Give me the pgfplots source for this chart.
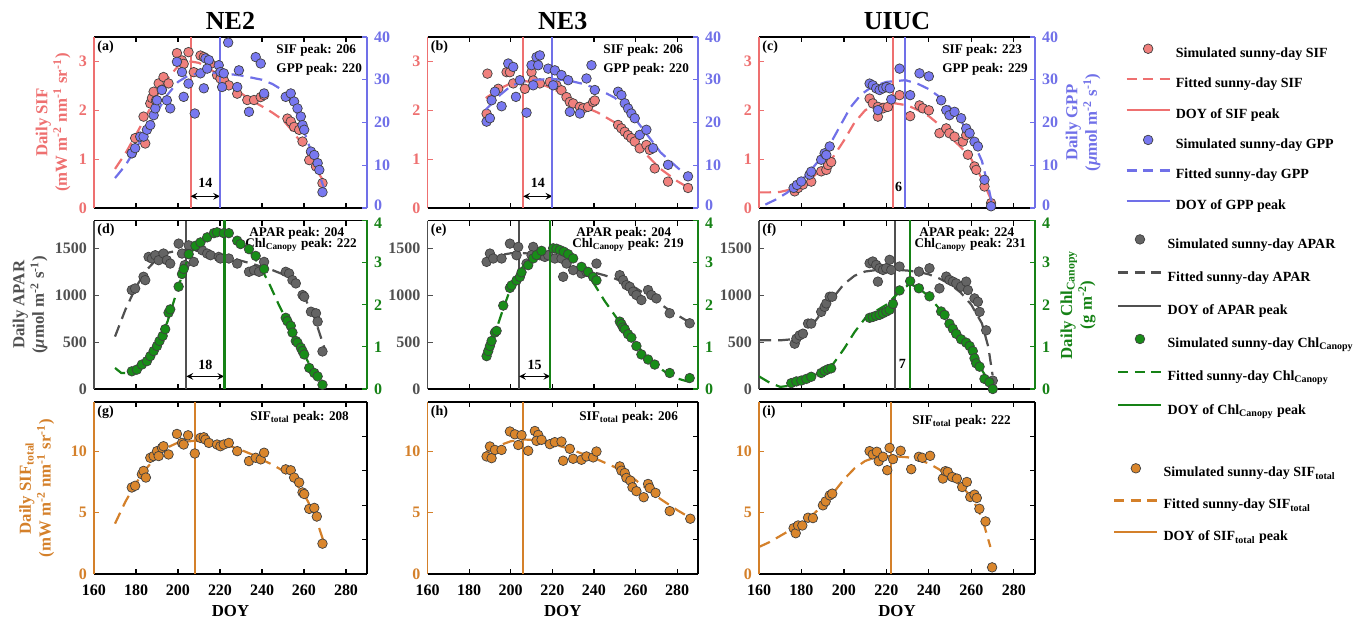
\documentclass[border=0pt]{standalone}
\usepackage{fontspec}
\setmainfont{Liberation Serif}
\usepackage{pgfplots}
\pgfplotsset{compat=1.18}

\definecolor{sifc}{RGB}{238,112,112}
\definecolor{sifm}{RGB}{240,128,125}
\definecolor{gppc}{RGB}{112,112,232}
\definecolor{gppm}{RGB}{120,120,240}
\definecolor{aparc}{RGB}{80,80,80}
\definecolor{aparm}{RGB}{100,100,100}
\definecolor{chlc}{RGB}{22,130,22}
\definecolor{chlm}{RGB}{24,140,24}
\definecolor{sftc}{RGB}{212,128,42}
\definecolor{sftm}{RGB}{218,134,44}

\newcommand\tickfont{\fontsize{8}{9.6}\selectfont\bfseries}
\newcommand\labfont{\fontsize{8.4}{9.8}\selectfont\bfseries}
\newcommand\txtfont{\fontsize{6.6}{7.6}\selectfont\bfseries}
\newcommand\legfont{\fontsize{7}{8.4}\selectfont\bfseries}

\pgfplotsset{
  base/.style={scale only axis, xmin=160, xmax=290, xtick={160,180,...,280},
    tick align=inside, major tick length=2.5pt,
    axis line style={line width=0.8pt},
    every tick/.append style={line width=0.6pt},
    ticklabel style={font=\tickfont},
    xticklabel style={yshift=-2pt},
    yticklabel style={inner ysep=0pt},
    /pgf/number format/assume math mode=true,
    /pgf/number format/1000 sep={},
    every axis y label/.style={rotate=90, anchor=center, align=center, font=\labfont},
    every axis x label/.style={at={(axis description cs:0.5,0)}, anchor=base, yshift=-21pt, font=\labfont},
    every axis title/.style={at={(0.5,1)}, anchor=base, yshift=3.5pt, font=\fontsize{13}{15}\selectfont\bfseries}},
  leftax/.style={base, axis x line*=box, axis y line*=left, xtick style={black}, x axis line style={black}},
  rightax/.style={base, axis x line=none, axis y line*=right},
  ycol/.style={y axis line style={#1}, ytick style={#1}, yticklabel style={text=#1}, ylabel style={text=#1}},
  nox/.style={xticklabels={}},
  % right axis of the top row: the zero label sits a touch higher
  gppticks/.style={ytick={10,20,30,40}, extra y ticks={0},
    extra y tick style={yticklabel style={yshift=1.2pt}}},
  % right axis of the middle row: the top label sits a touch lower
  chlticks/.style={ytick={0,1,2,3}, extra y ticks={4},
    extra y tick style={yticklabel style={yshift=-1.2pt}}},
  simmark/.style={only marks, mark=*, mark size=2.4pt, mark options={fill=#1, draw=black!75, line width=0.35pt}},
  fitline/.style={#1, no marks, line width=1.1pt, dash pattern=on 6pt off 3.5pt},
  peakline/.style={#1, no marks, line width=1pt},
  legmark/.style={only marks, mark=*, mark size=2.4pt, mark options={fill=#1, draw=black!75, line width=0.35pt},
    legend image code/.code={\draw[##1] plot coordinates {(10.75pt,2.3pt)};}},
  legline/.style={#1, line width=1pt,
    legend image code/.code={\draw[##1] (0pt,2.3pt) -- (21.5pt,2.3pt);}},
  legdash/.style={#1, line width=1.2pt, dash pattern=on 5pt off 3.25pt,
    legend image code/.code={\draw[##1] (0pt,2.3pt) -- (21.5pt,2.3pt);}},
  legbox/.style={at={(0,0)}, anchor=south west, scale only axis, width=683.5pt, height=308.5pt,
    hide axis, xmin=0, xmax=1, ymin=0, ymax=1,
    legend style={draw=none, fill=none, inner sep=0pt, font=\legfont, legend cell align=left,
      column sep=2.5pt, nodes={inner sep=0pt, text height=0.75em, text depth=0.35em}}},
}
\tikzset{
  tag/.style={anchor=north west, inner sep=1.5pt, font=\legfont},
  ptxt/.style={anchor=base west, inner sep=0pt, font=\txtfont},
  dim/.style={<->, >=stealth, line width=0.5pt, black},
  dimtxt/.style={inner sep=0pt, font=\legfont},
}

\begin{document}
\begin{tikzpicture}
\useasboundingbox (0,0) rectangle (683.5pt,308.5pt);

%================ (a) NE2 : SIF / GPP
\begin{axis}[leftax, nox, at={(47pt,204.5pt)}, width=136.5pt, height=85.5pt,
  ymin=0, ymax=3.5, ytick={0,1,2,3}, ycol=sifc, title={NE2},
  ylabel={Daily SIF\\(mW m\textsuperscript{-2} nm\textsuperscript{-1} sr\textsuperscript{-1})},
  ylabel style={at={(axis description cs:-0.15,0.5)}}]
\addplot[simmark=sifm] table {
178 1.12
179.6 1.43
184.4 1.32
183.6 1.87
186.8 2.14
187.6 2.25
188.4 2.38
189.5 2.2
190.8 2.55
192.3 2.42
193.1 2.68
195.5 2.55
199.5 3.17
201.9 3.02
202.7 2.95
205 3.19
207.5 2.78
210.7 3.12
212.3 3.09
215.5 2.95
218.6 2.72
220.2 2.65
222 2.6
224.2 2.51
228.2 2.34
233 2.21
236.2 2.21
239.4 2.27
241 2.31
252.1 1.83
253.7 1.77
255.3 1.66
257.7 1.6
259.3 1.36
262.5 0.98
265.7 0.85
268.8 0.51
};
\addplot[fitline=sifc] table {
170 0.8
175 1.12
180 1.5
185 1.9
190 2.3
195 2.65
200 2.9
206 3.0
210 2.97
215 2.85
220 2.7
225 2.52
230 2.35
235 2.2
240 2.08
245 1.95
250 1.8
255 1.55
260 1.25
265 0.85
270 0.5
};
\addplot[peakline=sifc] coordinates {(206,0) (206,3.5)};
\draw[dim] (axis cs:206,0.24) -- (axis cs:220,0.24);
\node[dimtxt] at (axis cs:213,0.52) {14};
\node[tag] at (rel axis cs:0,1) {(a)};
\node[ptxt] at (rel axis cs:0.667,0.905) {SIF peak: 206};
\node[ptxt] at (rel axis cs:0.667,0.79) {GPP peak: 220};
\end{axis}
\begin{axis}[rightax, at={(47pt,204.5pt)}, width=136.5pt, height=85.5pt,
  ymin=0, ymax=40, gppticks, ycol=gppc]
\addplot[simmark=gppm] table {
178 12.8
179.6 14
182 16.7
183.6 16.7
185.2 18.3
186.8 19.4
188.4 21.7
189.2 23.3
190 25.2
192.3 27.6
194.7 25.2
196.3 23.3
199.5 34.2
201.9 31.8
202.7 26
205 29.1
208 22.1
210.7 31.5
212.3 28
213.1 35
214.7 34.6
213.9 32.6
219.4 33.4
220.2 31.8
221 28.3
221.8 31.5
223.9 38.7
228.2 28.3
229 32.2
233.8 22.5
237 35.3
239.4 33.8
241 26.8
251.3 26
253.7 26.8
255.3 24.9
256.9 23.3
258.5 21.4
259.3 19.4
260.1 18.3
263.3 13.2
264.9 12.4
266.5 10.5
267.3 8.9
268.8 3.7
};
\addplot[fitline=gppc] table {
170 7
175 10
180 14
185 18
190 22.5
195 26.5
200 29.5
205 31
210 31.5
220 31.6
230 31
240 30
245 29
250 27.5
255 24
260 18
265 11
270 4
};
\addplot[peakline=gppc] coordinates {(220,0) (220,40)};
\end{axis}

%================ (b) NE3 : SIF / GPP
\begin{axis}[leftax, nox, at={(213.75pt,204.5pt)}, width=135.25pt, height=85.5pt,
  ymin=0, ymax=3.5, ytick={0,1,2,3}, ycol=sifc, title={NE3}]
\addplot[simmark=sifm] table {
188.4 1.93
188.8 2.75
194 2.44
198 2.78
199.6 2.78
201.2 2.55
206.8 2.44
210 2.78
210.8 2.61
214 2.55
218.8 2.58
222 2.51
224.4 2.41
226.8 2.27
228.4 2.17
230 2.14
233.2 2.07
234.8 2.04
237.2 2.07
239.6 2.17
240.4 2.2
251.6 1.7
253.2 1.63
254.8 1.56
256.4 1.49
258 1.43
259.6 1.36
262 1.22
265.2 1.29
266.8 1.19
269.2 0.81
275.6 0.54
285.2 0.41
};
\addplot[fitline=sifc] table {
188 2.25
195 2.45
200 2.55
206 2.6
212 2.57
220 2.45
228 2.25
235 2.08
242 1.95
250 1.75
258 1.45
265 1.1
272 0.8
280 0.55
286 0.4
};
\addplot[peakline=sifc] coordinates {(206,0) (206,3.5)};
\draw[dim] (axis cs:206,0.24) -- (axis cs:220,0.24);
\node[dimtxt] at (axis cs:213,0.52) {14};
\node[tag] at (rel axis cs:0,1) {(b)};
\node[ptxt] at (rel axis cs:0.649,0.905) {SIF peak: 206};
\node[ptxt] at (rel axis cs:0.649,0.79) {GPP peak: 220};
\end{axis}
\begin{axis}[rightax, at={(213.75pt,204.5pt)}, width=135.25pt, height=85.5pt,
  ymin=0, ymax=40, gppticks, ycol=gppc]
\addplot[simmark=gppm] table {
188.4 20.2
190 21
190.8 25.2
192.4 27.2
195.6 23.8
198.8 33.8
201.2 33
202.5 26
204.4 29.9
207.6 22.3
210 33.4
210.8 28.7
212.4 35.3
214 35.7
213.2 33.4
218 32.6
220.4 28.7
221.2 32.2
224.4 31.1
227.6 29.9
228.4 22.5
233.2 22.1
236.4 30.3
238.8 33.4
240.4 27.6
251.6 27.2
253.2 26.4
254.8 24.5
256.4 23.3
258 22.1
259.6 21
262 17.1
265.2 18.3
268.4 14
275.6 10.1
285.2 7.4
};
\addplot[fitline=gppc] table {
188 23
195 26.5
200 28.5
205 29.5
212 30
220 30.2
228 29.8
235 29
242 27.8
250 25.8
258 22
265 17.5
272 13
280 9.5
286 7
};
\addplot[peakline=gppc] coordinates {(220,0) (220,40)};
\end{axis}

%================ (c) UIUC : SIF / GPP
\begin{axis}[leftax, nox, at={(379.5pt,204.5pt)}, width=138pt, height=85.5pt,
  ymin=0, ymax=3.5, ytick={0,1,2,3}, ycol=sifc, title={UIUC}]
\addplot[simmark=sifm] table {
176.8 0.34
178.4 0.41
180.7 0.48
184.6 0.54
189.3 0.75
191.7 0.78
192.5 0.88
194 0.94
212.1 2.24
213.6 2.14
216 2.07
218.4 2.04
220.7 2.07
216 1.87
226.2 2.31
231.2 1.88
235.6 2.1
237.2 2.04
240 2.0
245 1.53
248.2 1.63
249.7 1.53
252.1 1.46
256 1.36
257.6 1.49
258.4 1.09
261.5 0.85
262.3 0.78
266.2 0.44
269.3 0.1
};
\addplot[fitline=sifc] table {
160 0.32
165 0.32
170 0.33
175 0.38
180 0.47
185 0.62
190 0.82
195 1.05
200 1.38
205 1.75
210 2.0
215 2.12
223 2.15
230 2.1
235 2.0
240 1.88
245 1.7
250 1.45
255 1.25
260 1.0
265 0.6
268 0.3
270 0.1
};
\addplot[peakline=sifc] coordinates {(223,0) (223,3.5)};
\node[dimtxt] at (axis cs:225.8,0.44) {6};
\node[tag] at (rel axis cs:0,1) {(c)};
\node[ptxt] at (rel axis cs:0.663,0.905) {SIF peak: 223};
\node[ptxt] at (rel axis cs:0.663,0.79) {GPP peak: 229};
\end{axis}
\begin{axis}[rightax, at={(379.5pt,204.5pt)}, width=138pt, height=85.5pt,
  ymin=0, ymax=40, gppticks, ycol=gppc,
  ylabel={Daily GPP\\(\textit{μ}mol m\textsuperscript{-2} s\textsuperscript{-1})},
  ylabel style={at={(axis description cs:1.174,0.5)}}]
\addplot[simmark=gppm] table {
176.3 4.7
177.9 5.4
179.9 6.2
183.8 7.8
184.6 8.5
189.3 11.3
190.9 12.8
191.7 12.4
193.3 14.4
212.1 29.1
213.6 28.7
215.2 28
216.8 27.6
218.4 28
220 28.3
221.6 28
216 22.9
222.3 25.4
226.2 32.6
231.2 26.4
235.6 31.5
240 30.8
245.8 25.2
248.2 22.9
249.7 21.7
252.1 22.5
255.2 21
257.6 18.6
259.2 17.5
261.5 15.5
263.1 14.4
266.2 6.6
269.3 0.4
};
\addplot[fitline=gppc] table {
163 0.8
168 2
173 3.5
178 5.5
183 8
188 11
193 14.5
198 19
203 23.5
208 26.5
213 28.3
220 29.5
229 29.9
235 29
240 27.8
245 26
250 23.5
255 20.5
260 16.5
265 11
268 5
270 0.5
};
\addplot[peakline=gppc] coordinates {(229,0) (229,40)};
\end{axis}

%================ (d) NE2 : APAR / Chl
\begin{axis}[leftax, nox, at={(47pt,114pt)}, width=136.5pt, height=84.25pt,
  ymin=0, ymax=1800, ytick={0,500,1000,1500}, ycol=aparc,
  ylabel={Daily APAR\\(\textit{μ}mol m\textsuperscript{-2} s\textsuperscript{-1})},
  ylabel style={at={(axis description cs:-0.234,0.5)}}]
\addplot[simmark=aparm] table {
178 1057
179.6 1074
183.6 1199
184.4 1163
186 1411
187.6 1394
189.2 1429
190.8 1376
193.1 1447
194.7 1376
196.3 1340
200.3 1553
201.9 1447
203.2 1323
205.1 1535
207.5 1358
209.1 1518
211.5 1482
213.9 1447
215.5 1429
219.4 1411
220.2 1394
224.2 1394
228.2 1340
233.8 1252
236.2 1270
238.6 1252
241 1358
251.3 1252
252.9 1234
254.5 1163
256.1 1128
259.3 1004
260.1 986
263.3 826
265.7 809
266.5 720
268.8 401
};
\addplot[fitline=aparc] table {
170 560
175 850
180 1090
185 1270
190 1390
195 1455
200 1480
204 1485
210 1475
215 1455
220 1430
225 1400
230 1370
235 1340
240 1305
245 1270
250 1225
255 1140
260 990
265 760
270 420
};
\addplot[peakline=aparc] coordinates {(204,0) (204,1800)};
\draw[dim] (axis cs:204,135) -- (axis cs:222,135);
\node[dimtxt] at (axis cs:213,255) {18};
\node[tag] at (rel axis cs:0,1) {(d)};
\node[ptxt] at (rel axis cs:0.568,0.905) {APAR peak: 204};
\node[ptxt] at (rel axis cs:0.553,0.842) {Chl\textsubscript{Canopy} peak: 222};
\end{axis}
\begin{axis}[rightax, at={(47pt,114pt)}, width=136.5pt, height=84.25pt,
  ymin=0, ymax=4, chlticks, ycol=chlc]
\addplot[simmark=chlm] table {
178 0.42
180.4 0.46
182.8 0.58
185.2 0.66
186.8 0.78
188.4 0.9
190 1.02
191.2 1.14
192.7 1.26
193.9 1.42
195.5 1.81
196.3 1.89
200.3 2.43
201.9 2.73
202.7 2.85
205.1 3.2
208.3 3.4
210.7 3.48
213.9 3.6
217.1 3.7
218.6 3.72
221.8 3.7
224.2 3.7
228.2 3.52
229.8 3.44
233.8 3.32
237 3.16
241 2.85
251.3 1.69
252.1 1.61
253.7 1.5
254.5 1.34
256.1 1.14
256.9 1.1
258.5 0.98
259.3 0.9
260.1 0.82
262.5 0.5
264.9 0.38
266.5 0.3
268.8 0.1
};
\addplot[fitline=chlc] table {
170 0.5
173 0.38
176 0.38
180 0.45
185 0.65
190 1.0
195 1.6
200 2.4
205 3.15
210 3.5
215 3.65
222 3.7
228 3.55
233 3.35
238 3.0
243 2.55
248 2.0
253 1.5
258 1.0
263 0.55
268 0.15
};
\addplot[chlc, no marks, line width=1.3pt] coordinates {(222,0) (222,4)};
\end{axis}

%================ (e) NE3 : APAR / Chl
\begin{axis}[leftax, nox, at={(213.75pt,114pt)}, width=135.25pt, height=84.25pt,
  ymin=0, ymax=1800, ytick={0,500,1000,1500}, ycol=aparc]
\addplot[simmark=aparm] table {
188.4 1358
190 1447
191.6 1394
195.6 1394
199.6 1553
202.8 1429
203.6 1518
207.6 1340
210.8 1518
210 1429
214 1429
216.4 1411
218 1429
221.2 1394
224.4 1394
225.2 1199
226.8 1340
230 1270
234 1234
236.4 1252
241.2 1340
252.4 1216
254 1163
255.6 1110
257.2 1092
258.8 1039
260.4 1004
262.8 950
266 1057
267.6 1004
270 968
276.4 809
286 702
};
\addplot[fitline=aparc] table {
188 1380
195 1430
200 1450
204 1455
210 1445
215 1425
220 1395
225 1360
230 1320
235 1280
240 1245
245 1215
250 1180
255 1135
260 1080
265 1010
270 940
275 860
280 790
286 710
};
\addplot[peakline=aparc] coordinates {(204,0) (204,1800)};
\draw[dim] (axis cs:204,135) -- (axis cs:219,135);
\node[dimtxt] at (axis cs:211.5,255) {15};
\node[tag] at (rel axis cs:0,1) {(e)};
\node[ptxt] at (rel axis cs:0.549,0.905) {APAR peak: 204};
\node[ptxt] at (rel axis cs:0.534,0.842) {Chl\textsubscript{Canopy} peak: 219};
\end{axis}
\begin{axis}[rightax, at={(213.75pt,114pt)}, width=135.25pt, height=84.25pt,
  ymin=0, ymax=4, chlticks, ycol=chlc]
\addplot[simmark=chlm] table {
188.4 0.78
189.2 0.9
190 1.02
190.8 1.14
192.4 1.34
193.2 1.38
196.4 1.98
199.6 2.4
200.4 2.46
202.8 2.58
204.4 2.66
205.2 2.77
208.4 2.94
210.8 3.1
212.4 3.18
214.8 3.28
220.4 3.34
222 3.33
223.6 3.3
225.5 3.26
227.6 3.2
230 3.1
234 2.9
237.2 2.78
239.6 2.66
241.2 2.58
252.4 1.6
253.2 1.54
254 1.46
254.8 1.42
256.4 1.3
258 1.22
260.4 1.02
262.8 0.82
266 0.7
269.2 0.58
276.4 0.38
286 0.26
};
\addplot[fitline=chlc] table {
188 0.7
192 1.25
196 1.85
200 2.4
205 2.85
210 3.15
215 3.3
220 3.35
225 3.3
230 3.12
235 2.85
240 2.5
245 2.1
250 1.75
255 1.4
260 1.08
265 0.78
270 0.55
275 0.38
280 0.25
285 0.18
287 0.2
};
\addplot[peakline=chlc] coordinates {(219,0) (219,4)};
\end{axis}

%================ (f) UIUC : APAR / Chl
\begin{axis}[leftax, nox, at={(379.5pt,114pt)}, width=138pt, height=84.25pt,
  ymin=0, ymax=1800, ytick={0,500,1000,1500}, ycol=aparc]
\addplot[simmark=aparm] table {
176.8 484
177.6 538
179.1 573
180.7 591
183.1 699
184.6 699
189.3 824
190.9 878
191.7 914
193.3 986
194.5 986
212.1 1344
213.6 1362
215.2 1326
216.8 1290
218.4 1272
219.9 1290
221.5 1380
222.3 1272
216 1147
226.2 1308
235.3 1254
240.3 1290
245 1075
248.2 1201
249.7 1165
251.3 1147
252.9 1129
255.2 1093
257.6 1147
258.4 1057
261.5 968
263.1 932
263.9 824
267 627
270.1 90
};
\addplot[fitline=aparc] table {
160 520
170 520
175 530
180 580
185 680
190 830
195 980
200 1120
205 1210
210 1255
215 1270
224 1275
230 1265
235 1250
240 1225
245 1180
250 1120
255 1030
260 900
265 700
268 450
270 150
};
\addplot[peakline=aparc] coordinates {(224,0) (224,1800)};
\node[dimtxt] at (axis cs:227.5,270) {7};
\node[tag] at (rel axis cs:0,1) {(f)};
\node[ptxt] at (rel axis cs:0.580,0.905) {APAR peak: 224};
\node[ptxt] at (rel axis cs:0.562,0.842) {Chl\textsubscript{Canopy} peak: 231};
\end{axis}
\begin{axis}[rightax, at={(379.5pt,114pt)}, width=138pt, height=84.25pt,
  ymin=0, ymax=4, chlticks, ycol=chlc,
  ylabel={Daily Chl\textsubscript{Canopy}\\(g m\textsuperscript{-2})},
  ylabel style={at={(axis description cs:1.156,0.5)}}]
\addplot[simmark=chlm] table {
175.2 0.14
177.6 0.18
179.9 0.2
182.3 0.24
184.6 0.29
189.3 0.38
190.9 0.43
192.5 0.47
194 0.49
212.1 1.69
213.6 1.71
215.2 1.74
216.8 1.76
218.4 1.8
220 1.84
221.5 1.88
223.1 2.02
226.2 2.34
231.2 2.56
235.3 2.39
240.3 2.2
245.8 1.84
247.4 1.76
249.7 1.55
251.3 1.43
252.9 1.31
255.2 1.18
257.6 1.1
259.2 1.02
260.7 0.9
261.5 0.73
262.3 0.61
263.9 0.53
266.2 0.24
268.5 0.16
270.1 0
};
\addplot[fitline=chlc] table {
160 0.3
165 0.15
170 0.05
175 0.08
180 0.18
185 0.3
190 0.42
195 0.6
200 0.95
205 1.35
210 1.68
215 1.85
220 2.0
225 2.25
231 2.5
235 2.4
240 2.2
245 1.9
250 1.5
255 1.15
260 0.85
265 0.45
268 0.2
270 0.02
};
\addplot[peakline=chlc] coordinates {(231,0) (231,4)};
\end{axis}

%================ (g) NE2 : SIF total
\begin{axis}[leftax, at={(47pt,21.5pt)}, width=136.5pt, height=86pt,
  ymin=0, ymax=14, ytick={0,5,10}, ycol=sftc, xlabel={DOY},
  ylabel={Daily SIF\textsubscript{total}\\(mW m\textsuperscript{-2} nm\textsuperscript{-1} sr\textsuperscript{-1})},
  ylabel style={at={(axis description cs:-0.21,0.5)}}]
\addplot[simmark=sftm] table {
178 7.04
179.6 7.18
182.8 8.12
183.6 8.39
184.7 7.85
186.8 9.46
188.4 9.6
190 10.0
190.8 9.6
192.4 10.27
193.1 10.4
195.5 9.73
199.5 11.4
201.9 10.67
202.7 10.54
204.8 11.29
208 9.81
210.7 11.08
212.3 11.13
213.1 10.94
214.7 10.67
218.6 10.54
220.2 10.4
221.8 10.54
224.2 10.67
228.2 10.0
233.8 9.19
237 9.46
239.4 9.33
241 9.87
251.3 8.52
253.7 8.44
255.3 7.85
257.7 7.45
259.3 6.64
260.1 6.51
262.5 5.3
264.9 5.38
266.1 4.68
268.8 2.47
};
\addplot[fitline=sftc] table {
170 4.1
175 5.9
180 7.4
185 8.6
190 9.6
195 10.3
200 10.7
208 10.85
215 10.75
220 10.6
225 10.4
230 10.1
235 9.75
240 9.3
245 8.9
250 8.4
255 7.6
260 6.5
265 4.9
270 2.3
};
\addplot[peakline=sftc] coordinates {(208,0) (208,14)};
\node[tag] at (rel axis cs:0,1) {(g)};
\node[ptxt] at (rel axis cs:0.571,0.89) {SIF\textsubscript{total} peak: 208};
\end{axis}
\begin{axis}[rightax, at={(47pt,21.5pt)}, width=136.5pt, height=86pt,
  ymin=0, ymax=1, ytick={0.2,0.4,0.6,0.8}, yticklabels={}, ycol=black]
\end{axis}

%================ (h) NE3 : SIF total
\begin{axis}[leftax, at={(213.75pt,21.5pt)}, width=135.25pt, height=86pt,
  ymin=0, ymax=14, ytick={0,5,10}, ycol=sftc, xlabel={DOY}]
\addplot[simmark=sftm] table {
188.4 9.57
190 10.38
190.8 9.43
192.4 10.1
195.6 10.1
199.6 11.6
202 11.37
203.6 10.5
205.2 11.3
208.4 10.03
211.6 11.64
213.2 11.32
212.4 10.84
214.8 10.92
218.8 10.57
221.2 10.73
224.4 10.78
225.2 9.22
228.4 10.19
230 9.38
234 9.3
236.4 9.57
239.6 9.49
241.2 9.97
252.4 8.76
253.2 8.41
254.8 8.22
255.6 7.82
257.5 7.6
258.5 7.06
260.4 6.74
263.9 6.25
266 7.33
266.8 7.0
269.6 6.6
276.4 5.12
286.3 4.5
};
\addplot[fitline=sftc] table {
188 9.9
195 10.5
200 10.8
206 10.95
212 10.9
220 10.6
228 10.2
235 9.75
242 9.3
250 8.7
258 7.9
265 7.0
272 6.1
280 5.2
286 4.6
};
\addplot[peakline=sftc] coordinates {(206,0) (206,14)};
\node[tag] at (rel axis cs:0,1) {(h)};
\node[ptxt] at (rel axis cs:0.56,0.89) {SIF\textsubscript{total} peak: 206};
\end{axis}
\begin{axis}[rightax, at={(213.75pt,21.5pt)}, width=135.25pt, height=86pt,
  ymin=0, ymax=1, ytick={0.2,0.4,0.6,0.8}, yticklabels={}, ycol=black]
\end{axis}

%================ (i) UIUC : SIF total
\begin{axis}[leftax, at={(379.5pt,21.5pt)}, width=138pt, height=86pt,
  ymin=0, ymax=14, ytick={0,5,10}, ycol=sftc, xlabel={DOY}]
\addplot[simmark=sftm] table {
176.3 3.73
177.3 3.32
178.4 3.95
180.4 3.95
183.1 4.58
185.4 4.55
190.1 5.59
191.4 5.91
193.3 6.4
194.5 6.54
212.1 10.0
213.6 9.73
215.5 9.95
216.4 9.18
218.4 9.54
220.4 8.45
221.5 10.27
223.1 9.35
226.7 10.03
231.7 8.53
235.3 9.54
236.9 9.46
240.6 9.62
246.6 7.77
247.8 8.37
248.9 8.31
251 7.9
253.2 7.77
255.7 7.08
257.9 7.49
259.5 6.27
261.5 6.46
262.6 6.19
263.8 5.31
266.7 4.28
269.8 0.54
};
\addplot[fitline=sftc] table {
160 2.2
165 2.6
170 3.1
175 3.6
180 4.1
185 4.75
190 5.6
195 6.6
200 7.7
205 8.6
210 9.2
215 9.5
222 9.6
230 9.5
235 9.3
240 9.0
245 8.5
250 7.9
255 7.2
260 6.3
265 4.6
268 2.8
269 2.2
};
\addplot[peakline=sftc] coordinates {(222,0) (222,14)};
\node[tag] at (rel axis cs:0,1) {(i)};
\node[ptxt] at (rel axis cs:0.554,0.872) {SIF\textsubscript{total} peak: 222};
\end{axis}
\begin{axis}[rightax, at={(379.5pt,21.5pt)}, width=138pt, height=86pt,
  ymin=0, ymax=1, ytick={0.2,0.4,0.6,0.8}, yticklabels={}, ycol=black]
\end{axis}

%================ legends
\begin{axis}[legbox, legend style={at={(0.823,0.932)}, anchor=north west, row sep=4.2pt}]
\addlegendimage{legmark=sifm}
\addlegendentry{Simulated sunny-day SIF}
\addlegendimage{legdash=sifc}
\addlegendentry{Fitted sunny-day SIF}
\addlegendimage{legline=sifc}
\addlegendentry{DOY of SIF peak}
\addlegendimage{legmark=gppm}
\addlegendentry{Simulated sunny-day GPP}
\addlegendimage{legdash=gppc}
\addlegendentry{Fitted sunny-day GPP}
\addlegendimage{legline=gppc}
\addlegendentry{DOY of GPP peak}
\end{axis}
\begin{axis}[legbox, legend style={at={(0.817,0.623)}, anchor=north west, row sep=5.6pt}]
\addlegendimage{legmark=aparm}
\addlegendentry{Simulated sunny-day APAR}
\addlegendimage{legdash=aparc}
\addlegendentry{Fitted sunny-day APAR}
\addlegendimage{legline=aparc}
\addlegendentry{DOY of APAR peak}
\addlegendimage{legmark=chlm}
\addlegendentry{Simulated sunny-day Chl\textsubscript{Canopy}}
\addlegendimage{legdash=chlc}
\addlegendentry{Fitted sunny-day Chl\textsubscript{Canopy}}
\addlegendimage{legline=chlc}
\addlegendentry{DOY of Chl\textsubscript{Canopy} peak}
\end{axis}
\begin{axis}[legbox, legend style={at={(0.814,0.252)}, anchor=north west, row sep=5pt}]
\addlegendimage{legmark=sftm}
\addlegendentry{Simulated sunny-day SIF\textsubscript{total}}
\addlegendimage{legdash=sftc}
\addlegendentry{Fitted sunny-day SIF\textsubscript{total}}
\addlegendimage{legline=sftc}
\addlegendentry{DOY of SIF\textsubscript{total} peak}
\end{axis}
\end{tikzpicture}
\end{document}
